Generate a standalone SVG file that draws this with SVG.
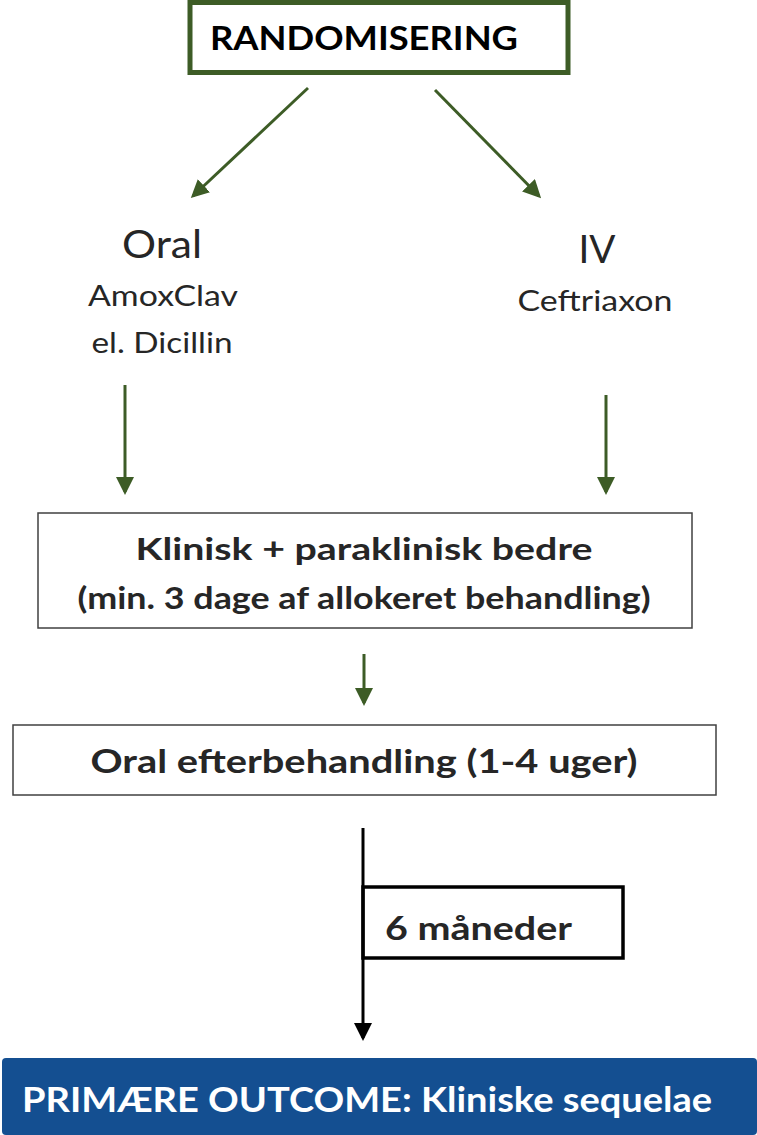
<svg xmlns="http://www.w3.org/2000/svg" width="757" height="1135" viewBox="0 0 757 1135">
<style>
text{font-family:Lato,"Open Sans","Liberation Sans",sans-serif;fill:#262626}
.b{font-weight:bold}
.g{stroke:#3d5c26;stroke-width:3;fill:none}
.k{stroke:#000;stroke-width:3;fill:none}
</style>
<defs>
<marker id="ag" markerWidth="6" markerHeight="6" refX="5" refY="3" orient="auto" markerUnits="strokeWidth"><path d="M0,0 L6,3 L0,6 z" fill="#3d5c26"/></marker>
<marker id="ak" markerWidth="6" markerHeight="6" refX="5" refY="3" orient="auto" markerUnits="strokeWidth"><path d="M0,0 L6,3 L0,6 z" fill="#000"/></marker>
</defs>
<rect x="0" y="0" width="757" height="1135" fill="#fff"/>
<g id="randomisering">
<rect x="190" y="2.5" width="378" height="70" fill="#fff" stroke="#3d5c26" stroke-width="5"/>
<text x="210" y="50" class="b" font-size="32" style="fill:#000" textLength="308" lengthAdjust="spacingAndGlyphs">RANDOMISERING</text>
</g>
<g id="oral">
<text x="162" y="258" text-anchor="middle" font-size="39" textLength="80" lengthAdjust="spacingAndGlyphs">Oral</text>
<text x="163" y="306" text-anchor="middle" font-size="29" textLength="150" lengthAdjust="spacingAndGlyphs">AmoxClav</text>
<text x="162" y="353" text-anchor="middle" font-size="29" textLength="141" lengthAdjust="spacingAndGlyphs">el. Dicillin</text>
</g>
<g id="iv">
<text x="597" y="263" text-anchor="middle" font-size="39" textLength="37" lengthAdjust="spacingAndGlyphs">IV</text>
<text x="595" y="311" text-anchor="middle" font-size="29" textLength="155" lengthAdjust="spacingAndGlyphs">Ceftriaxon</text>
</g>
<g id="bedre">
<rect x="38" y="513" width="654" height="115" fill="#fff" stroke="#404040" stroke-width="1.5"/>
<text x="364" y="560" text-anchor="middle" class="b" font-size="31" textLength="457" lengthAdjust="spacingAndGlyphs">Klinisk + paraklinisk  bedre</text>
<text x="364" y="609" text-anchor="middle" class="b" font-size="30" textLength="573" lengthAdjust="spacingAndGlyphs">(min. 3 dage af allokeret behandling)</text>
</g>
<g id="efterbehandling">
<rect x="13" y="725" width="703" height="70" fill="#fff" stroke="#404040" stroke-width="1.5"/>
<text x="364" y="773" text-anchor="middle" class="b" font-size="33" textLength="547" lengthAdjust="spacingAndGlyphs">Oral efterbehandling  (1-4 uger)</text>
</g>
<g id="maaneder">
<rect x="363" y="887" width="260" height="71" fill="#fff" stroke="#000" stroke-width="3.5"/>
<text x="385" y="940" class="b" font-size="33" textLength="187" lengthAdjust="spacingAndGlyphs">6 måneder</text>
</g>
<g id="outcome">
<rect x="2" y="1058" width="755" height="77" rx="4" fill="#144f91"/>
<text x="22" y="1112" class="b" font-size="35" style="fill:#fff" textLength="690" lengthAdjust="spacingAndGlyphs">PRIMÆRE OUTCOME: Kliniske sequelae</text>
</g>
<g id="connectors">
<line x1="308" y1="88" x2="193" y2="196" class="g" marker-end="url(#ag)"/>
<line x1="435" y1="90" x2="539" y2="196" class="g" marker-end="url(#ag)"/>
<line x1="125" y1="385" x2="125" y2="492" class="g" marker-end="url(#ag)"/>
<line x1="606" y1="395" x2="606" y2="492" class="g" marker-end="url(#ag)"/>
<line x1="364" y1="654" x2="364" y2="703" class="g" marker-end="url(#ag)"/>
<line x1="363" y1="828" x2="363" y2="1038" class="k" marker-end="url(#ak)"/>
</g>
</svg>
